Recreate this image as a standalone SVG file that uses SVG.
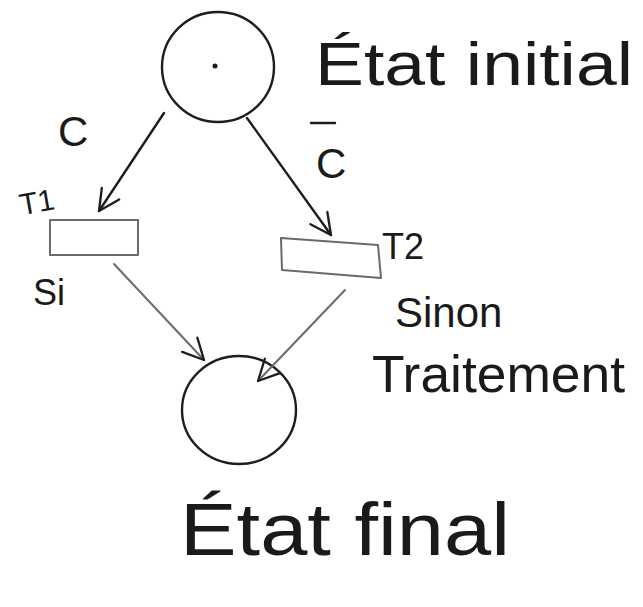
<svg xmlns="http://www.w3.org/2000/svg" width="643" height="607" viewBox="0 0 643 607">
  <style>
    .stroke { fill: none; stroke: #1e1e1e; stroke-width: 2.4; stroke-linecap: round; stroke-linejoin: round; }
    .soft { stroke: #6a6a6a; stroke-width: 2; }
    .lbl { font-family: "Liberation Sans", "DejaVu Sans", sans-serif; fill: #1a1a1a; }
  </style>
  <defs>
    <marker id="open-v" viewBox="0 0 20 20" refX="18" refY="10" markerWidth="26" markerHeight="26" markerUnits="userSpaceOnUse" orient="auto">
      <path d="M2,2 L18,10 L2,18" fill="none" stroke="#1e1e1e" stroke-width="1.8" stroke-linecap="round" stroke-linejoin="round"/>
    </marker>
  </defs>
  <rect width="643" height="607" fill="#ffffff"/>

  <!-- initial place with its token -->
  <g id="place-initial">
    <ellipse class="stroke" cx="218" cy="67" rx="56" ry="55"/>
    <circle cx="215" cy="66" r="2.5" fill="#1e1e1e"/>
    <text class="lbl" x="315" y="85" font-size="62" textLength="318" lengthAdjust="spacingAndGlyphs">État initial</text>
  </g>

  <!-- transition T1 -->
  <g id="transition-t1">
    <rect class="stroke soft" x="50" y="220" width="88" height="35"/>
    <text class="lbl" x="19" y="213" font-size="30" transform="rotate(-10 33 200)">T1</text>
    <text class="lbl" x="33" y="305" font-size="36">Si</text>
  </g>

  <!-- transition T2 -->
  <g id="transition-t2">
    <polygon class="stroke soft" points="281,238 378,245 381,278 282,270"/>
    <text class="lbl" x="382" y="259" font-size="36">T2</text>
    <text class="lbl" x="395" y="327" font-size="42">Sinon</text>
    <text class="lbl" x="372" y="392" font-size="52" textLength="253" lengthAdjust="spacingAndGlyphs">Traitement</text>
  </g>

  <!-- final place -->
  <g id="place-final">
    <ellipse class="stroke" cx="239" cy="410" rx="57" ry="54"/>
    <text class="lbl" x="180" y="555" font-size="74" textLength="330" lengthAdjust="spacingAndGlyphs">État final</text>
  </g>

  <!-- arcs between places and transitions -->
  <g id="connectors">
    <line class="stroke" x1="164" y1="113" x2="99" y2="211" marker-end="url(#open-v)"/>
    <text class="lbl" x="58" y="146" font-size="42">C</text>
    <line class="stroke" x1="247" y1="118" x2="331" y2="235" marker-end="url(#open-v)"/>
    <text class="lbl" x="316" y="178" font-size="42">C</text>
    <line class="stroke" x1="311" y1="123" x2="335" y2="123"/>
    <line class="stroke soft" x1="114" y1="264" x2="204" y2="360" marker-end="url(#open-v)"/>
    <line class="stroke soft" x1="345" y1="290" x2="258" y2="381" marker-end="url(#open-v)"/>
  </g>
</svg>
